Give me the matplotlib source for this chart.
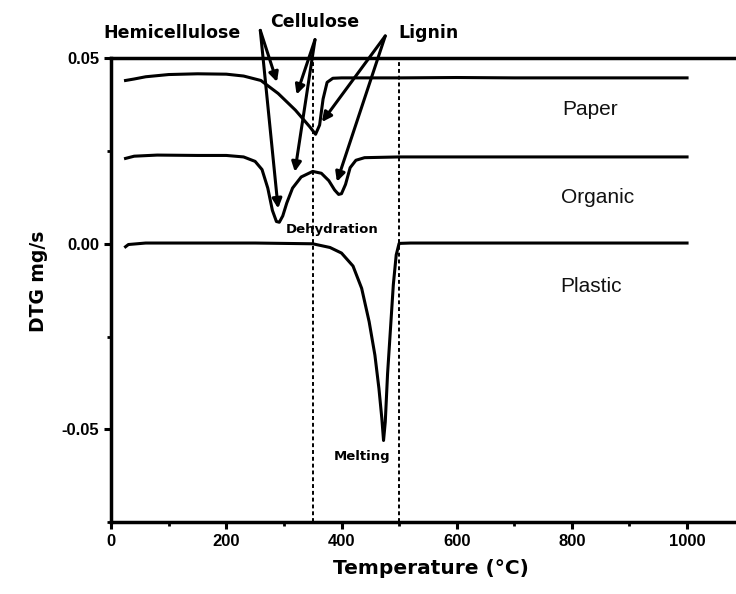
import numpy as np
import matplotlib
matplotlib.use("Agg")
import matplotlib.pyplot as plt
from matplotlib.ticker import MultipleLocator

plt.rcParams['font.family'] = ['Liberation Sans', 'DejaVu Sans']

# DTG curves (temperature in C, DTG in mg/s)
paper_t = [25, 40, 60, 100, 150, 200, 230, 260, 290, 320, 345, 355, 362, 368, 375, 385, 400, 500, 600, 700, 800, 900, 1000]
paper_v = [0.0440, 0.0444, 0.0450, 0.0456, 0.0458, 0.0457, 0.0452, 0.0440, 0.0405, 0.0360, 0.0315, 0.0295,
           0.0320, 0.0390, 0.0435, 0.0446, 0.0447, 0.0447, 0.0448, 0.0447, 0.0447, 0.0447, 0.0447]

organic_t = [25, 40, 80, 150, 200, 230, 250, 262, 272, 280, 287, 292, 298, 305, 315, 330, 350, 365, 378,
             388, 395, 400, 407, 415, 425, 440, 500, 600, 800, 1000]
organic_v = [0.0230, 0.0236, 0.0239, 0.0238, 0.0238, 0.0234, 0.0222, 0.0200, 0.0150, 0.0090, 0.0060, 0.0058,
             0.0075, 0.0110, 0.0150, 0.0180, 0.0195, 0.0190, 0.0170, 0.0145, 0.0133, 0.0135, 0.0160, 0.0205,
             0.0225, 0.0232, 0.0234, 0.0234, 0.0234, 0.0234]

plastic_t = [25, 30, 60, 150, 250, 350, 380, 400, 420, 435, 448, 458, 465, 470, 473, 476, 480, 485, 490,
             495, 500, 520, 700, 1000]
plastic_v = [-0.0008, -0.0002, 0.0002, 0.0002, 0.0002, 0.0000, -0.0010, -0.0025, -0.0060, -0.0120, -0.0210,
             -0.0300, -0.0390, -0.0470, -0.0530, -0.0480, -0.0350, -0.0230, -0.0110, -0.0030, 0.0001,
             0.0002, 0.0002, 0.0002]

# curve names and where they sit
curve_names = ["Paper", "Organic", "Plastic"]
curve_label_pos = [(832, 0.0363), (844, 0.0126), (833, -0.0116)]

# region boundaries (dashed)
boundaries = [350, 500]

# component labels with their arrows
components = ["Hemicellulose", "Cellulose", "Lignin"]
component_pos = [(106, 0.0567), (354, 0.0597), (551, 0.0567)]
arrow_starts = [(259, 0.0575), (354, 0.0550), (476, 0.0560)]
arrow_ends = [[(288, 0.0436), (290, 0.0095)],
              [(322, 0.0402), (319, 0.0194)],
              [(366, 0.0328), (392, 0.0167)]]

fig = plt.figure(figsize=(7.36, 5.94), dpi=100)
ax = fig.add_axes([0.151, 0.121, 0.849, 0.781])

for t, v in [(paper_t, paper_v), (organic_t, organic_v), (plastic_t, plastic_v)]:
    ax.plot(t, v, color='black', lw=2.2)

for b in boundaries:
    ax.axvline(b, color='black', lw=1.4, ls=(0, (2, 1.5)))

for name, (x, y) in zip(curve_names, curve_label_pos):
    ax.text(x, y, name, fontsize=15, ha='center', va='center', color='#111111')

ax.text(384, 0.0038, "Dehydration", fontsize=9.5, fontweight='bold', family='DejaVu Sans',
        ha='center', va='center')
ax.text(436, -0.0573, "Melting", fontsize=9.5, fontweight='bold', family='DejaVu Sans',
        ha='center', va='center')

for name, pos, start, ends in zip(components, component_pos, arrow_starts, arrow_ends):
    ax.text(pos[0], pos[1], name, fontsize=12.5, fontweight='bold', family='DejaVu Sans',
            ha='center', va='center', clip_on=False)
    for end in ends:
        ax.annotate("", xy=end, xytext=start, annotation_clip=False,
                    arrowprops=dict(arrowstyle='-|>', color='black', lw=2.2,
                                    mutation_scale=14, shrinkA=0, shrinkB=0))

ax.set_xlim(0, 1085)
ax.set_ylim(-0.075, 0.05)
ax.set_xticks([0, 200, 400, 600, 800, 1000])
ax.xaxis.set_minor_locator(MultipleLocator(100))
ax.set_yticks([-0.05, 0.0, 0.05])
ax.set_yticklabels(["-0.05", "0.00", "0.05"])
ax.yaxis.set_minor_locator(MultipleLocator(0.025))

for s in ['left', 'bottom', 'top']:
    ax.spines[s].set_linewidth(2.5)
ax.spines['right'].set_visible(False)
ax.tick_params(which='major', direction='out', length=5, width=2.2, labelsize=12)
ax.tick_params(which='minor', direction='out', length=3, width=2)
for lbl in ax.get_xticklabels() + ax.get_yticklabels():
    lbl.set_fontweight('bold')

ax.set_xlabel("Temperature (°C)", fontsize=14.5, fontweight='bold', family='DejaVu Sans',
              labelpad=7, x=0.512)
ax.set_ylabel("DTG mg/s", fontsize=13.5, fontweight='bold', family='DejaVu Sans',
              labelpad=10, y=0.52)

fig.savefig("out.png", dpi=100)
